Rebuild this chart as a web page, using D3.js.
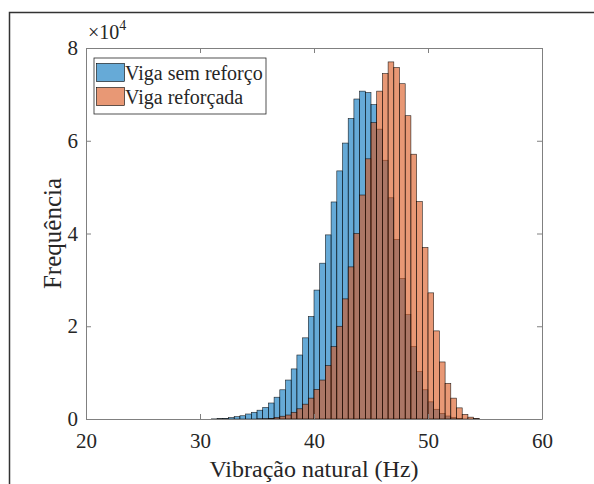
<!DOCTYPE html>
<html lang="pt">
<head>
<meta charset="utf-8">
<title>Histograma</title>
<script src="https://cdn.jsdelivr.net/npm/d3@7"></script>
<style>
  body { margin: 0; background: #fff; }
  svg text { font-family: "Liberation Serif", "Times New Roman", serif; fill: #262626; }
</style>
</head>
<body>
<script>
// bins of 0.5 Hz
var binWidth = 0.5;
var semStart = 31.0;   // first edge, Viga sem reforço
var semCounts = [30, 80, 150, 300, 500, 700, 1080, 1450, 1900, 2500, 3450, 4700, 6300, 8400,
  10800, 13800, 17500, 22100, 27800, 33600, 39700, 46800, 53500, 59500, 64800, 69000, 70700,
  70400, 67800, 62500, 55800, 47700, 38700, 30300, 22500, 15600, 10200, 6300, 3700, 2100,
  1200, 650, 300, 100];
var refStart = 35.0;   // first edge, Viga reforçada
var refCounts = [30, 60, 120, 350, 600, 860, 1450, 2200, 3200, 4500, 6400, 8400, 11500,
  15600, 20000, 25900, 32800, 40000, 48300, 56100, 63900, 70700, 74500, 77000, 75800, 72300,
  65400, 57100, 46900, 37000, 27200, 19000, 12300, 7700, 4500, 2400, 1000, 400, 150];
var seriesNames = ["Viga sem reforço", "Viga reforçada"];
var xTicks = [20, 30, 40, 50, 60];
var yTicks = [0, 20000, 40000, 60000, 80000];

var W = 594, H = 484;
var pL = 86, pR = 542, pT = 48, pB = 419;   // axes box
var colors = ["#0072BD", "#D95319"];

var x = d3.scaleLinear().domain([20, 60]).range([pL, pR]);
var y = d3.scaleLinear().domain([0, 80000]).range([pB, pT]);

var svg = d3.select("body").append("svg").attr("width", W).attr("height", H);

// outer frame
svg.append("path").attr("d", "M9.5," + H + "V12.5H" + W)
  .attr("fill", "none").attr("stroke", "#333").attr("stroke-width", 1.5);

function toBins(start, counts) {
  return counts.map(function(c, i) { return { x0: start + i * binWidth, x1: start + (i + 1) * binWidth, v: c }; });
}

var plot = svg.append("g");
[toBins(semStart, semCounts), toBins(refStart, refCounts)].forEach(function(bins, k) {
  plot.append("g").selectAll("rect").data(bins).enter().append("rect")
    .attr("x", function(d) { return x(d.x0); })
    .attr("width", function(d) { return x(d.x1) - x(d.x0); })
    .attr("y", function(d) { return y(d.v); })
    .attr("height", function(d) { return y(0) - y(d.v); })
    .attr("fill", colors[k])
    .attr("fill-opacity", 0.6)
    .attr("stroke", "#000")
    .attr("stroke-opacity", 0.85)
    .attr("stroke-width", 0.6);
});

// axes (ticks inward, box on)
function style(g, labels) {
  g.select(".domain").attr("stroke", "#808080");
  g.selectAll(".tick line").attr("stroke", "#808080");
  g.selectAll(".tick text").attr("font-size", labels ? "21px" : "0px");
}
svg.append("g").attr("transform", "translate(0," + pB + ")")
  .call(d3.axisBottom(x).tickValues(xTicks).tickSizeInner(-5).tickSizeOuter(0).tickPadding(14))
  .call(function(g) { style(g, true); });
svg.append("g").attr("transform", "translate(0," + pT + ")")
  .call(d3.axisTop(x).tickValues(xTicks).tickSizeInner(-5).tickSizeOuter(0).tickFormat(""))
  .call(function(g) { style(g, false); });
svg.append("g").attr("transform", "translate(" + pL + ",0)")
  .call(d3.axisLeft(y).tickValues(yTicks).tickSizeInner(-5).tickSizeOuter(0).tickPadding(8)
    .tickFormat(function(d) { return d / 1e4; }))
  .call(function(g) { style(g, true); });
svg.append("g").attr("transform", "translate(" + pR + ",0)")
  .call(d3.axisRight(y).tickValues(yTicks).tickSizeInner(-5).tickSizeOuter(0).tickFormat(""))
  .call(function(g) { style(g, false); });
svg.selectAll(".tick text").attr("fill", "#262626").attr("font-family", "Liberation Serif");

// exponent
var ex = svg.append("text").attr("x", 88).attr("y", 39).attr("font-size", "20px");
ex.append("tspan").text("×10");
ex.append("tspan").attr("font-size", "14px").attr("dy", -9).text("4");

// axis labels
svg.append("text").attr("x", (pL + pR) / 2).attr("y", 477)
  .attr("text-anchor", "middle").attr("font-size", "24px").text("Vibração natural (Hz)");
svg.append("text").attr("transform", "translate(61," + (pT + pB) / 2 + ") rotate(-90)")
  .attr("text-anchor", "middle").attr("font-size", "25px").text("Frequência");

// legend
var lg = svg.append("g").attr("transform", "translate(94,58)");
lg.append("rect").attr("width", 172).attr("height", 56)
  .attr("fill", "#fff").attr("stroke", "#262626").attr("stroke-width", 0.8);
seriesNames.forEach(function(name, i) {
  lg.append("rect").attr("x", 2.5).attr("y", 5.5 + i * 24).attr("width", 28).attr("height", 18)
    .attr("fill", colors[i]).attr("fill-opacity", 0.6).attr("stroke", "#000").attr("stroke-width", 0.6);
  lg.append("text").attr("x", 31).attr("y", 22 + i * 24).attr("font-size", "20px").text(name);
});
</script>
</body>
</html>
